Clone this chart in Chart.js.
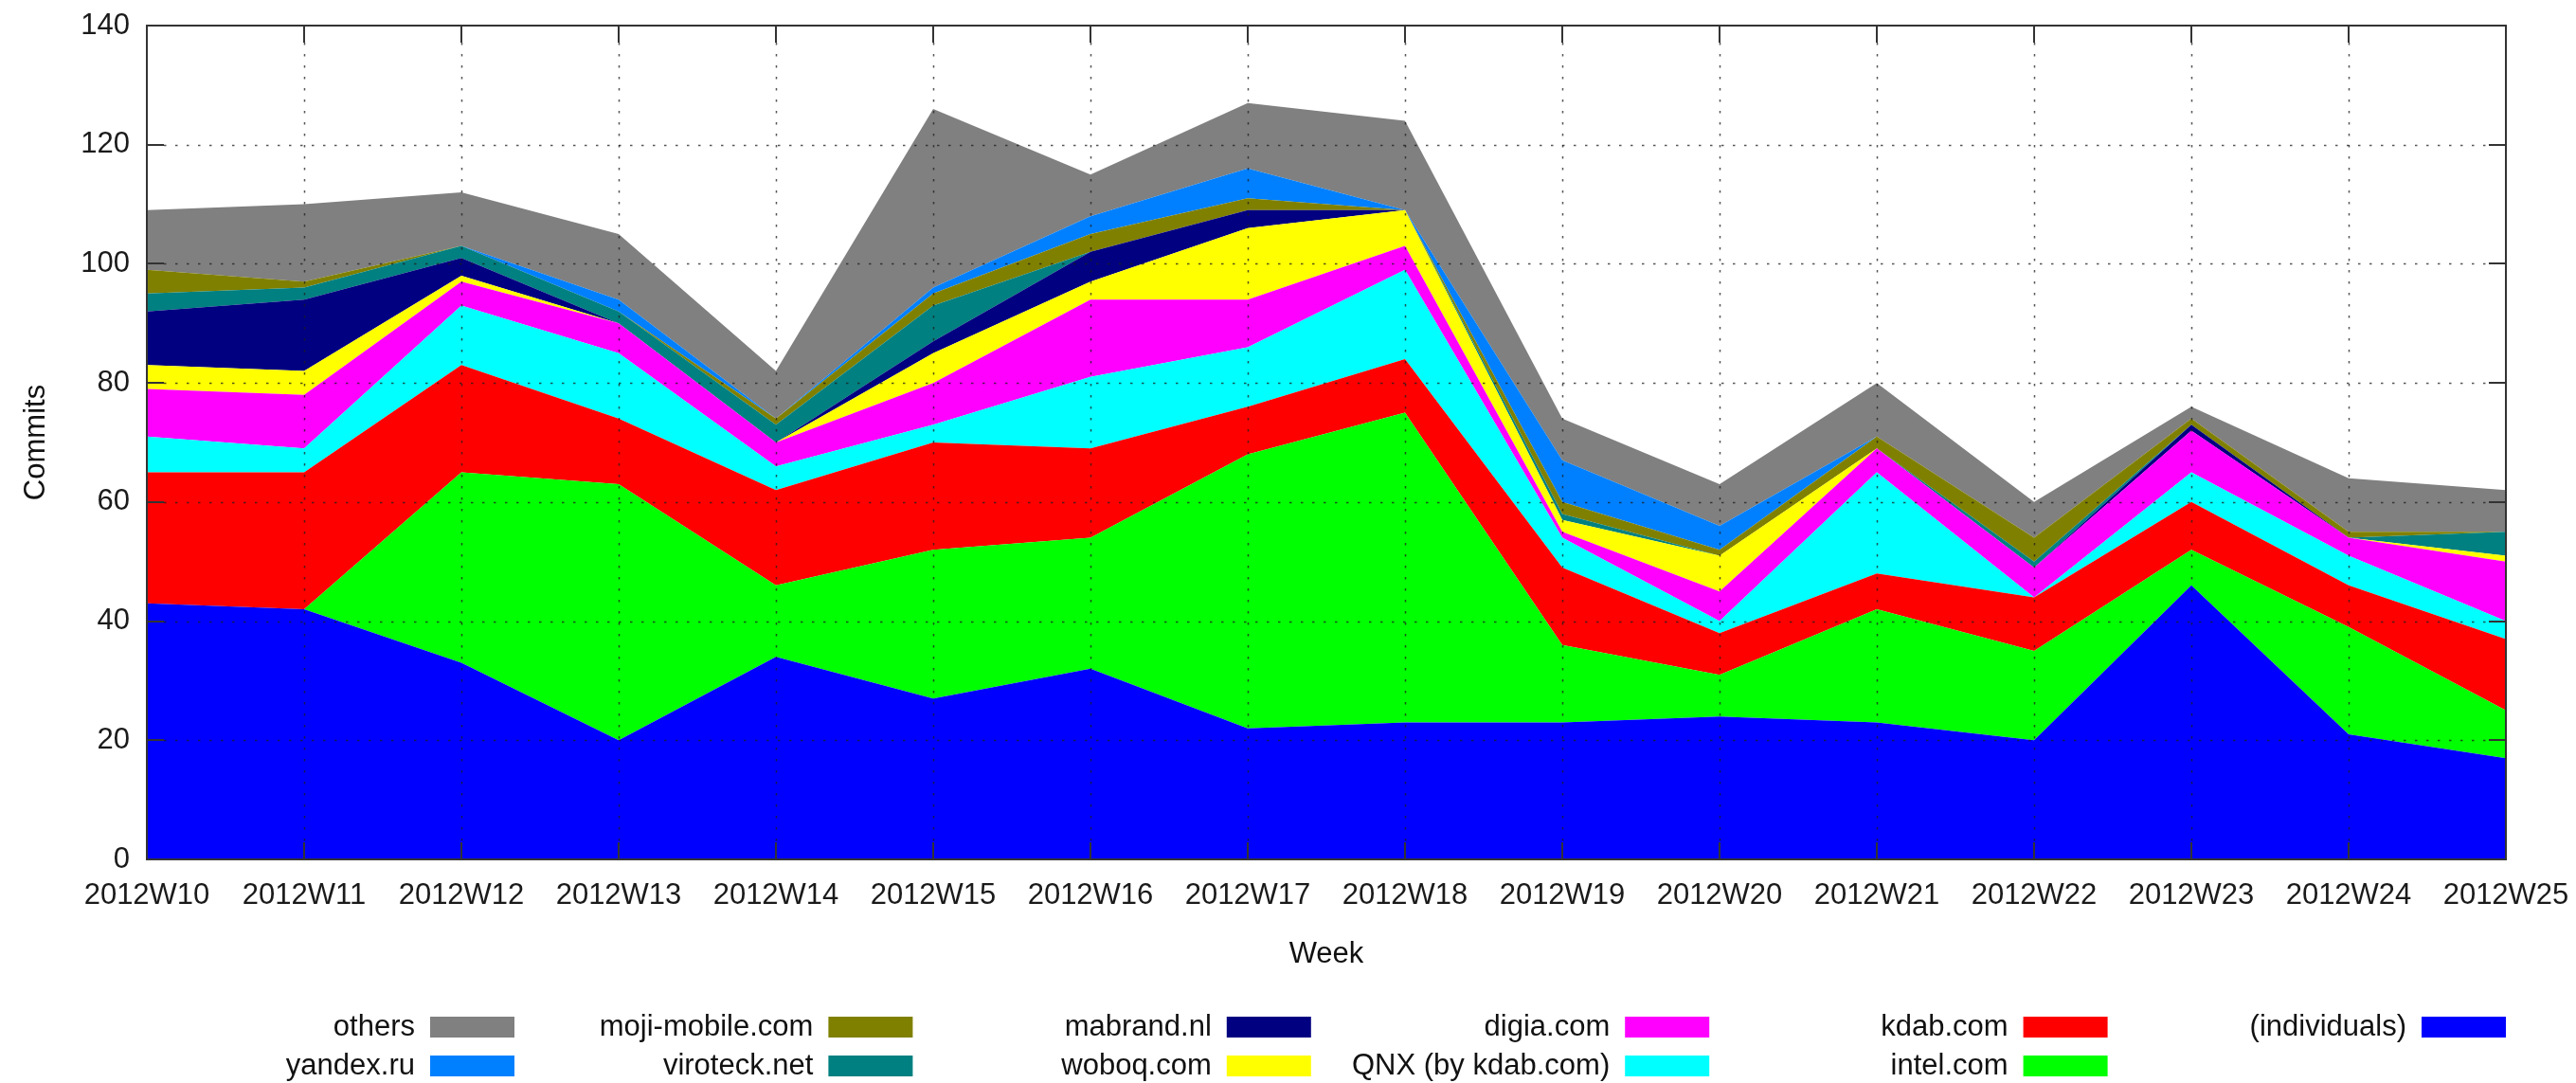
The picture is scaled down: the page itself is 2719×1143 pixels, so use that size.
<!DOCTYPE html>
<html>
<head>
<meta charset="utf-8">
<title>Commits per week</title>
<script src="https://cdn.jsdelivr.net/npm/chart.js@4.4.0/dist/chart.umd.min.js"></script>
<style>
  body { margin: 0; background: #fff; }
  #wrap { width: 2719px; height: 1143px; position: relative; }
</style>
</head>
<body>
<div id="wrap"><canvas id="commitsChart"></canvas></div>
<script>
// weeks on the x axis
const weeks = ["2012W10", "2012W11", "2012W12", "2012W13", "2012W14", "2012W15", "2012W16", "2012W17",
               "2012W18", "2012W19", "2012W20", "2012W21", "2012W22", "2012W23", "2012W24", "2012W25"];

// commits per company, stacked bottom to top
const individuals = [43, 42, 33, 20, 34, 27, 32, 22, 23, 23, 24, 23, 20, 46, 21, 17];
const intel       = [0, 0, 32, 43, 12, 25, 22, 46, 52, 13, 7, 19, 15, 6, 18, 8];
const kdab        = [22, 23, 18, 11, 16, 18, 15, 8, 9, 13, 7, 6, 9, 8, 7, 12];
const qnx         = [6, 4, 10, 11, 4, 3, 12, 10, 15, 5, 2, 17, 0, 5, 5, 3];
const digia       = [8, 9, 4, 5, 4, 7, 13, 8, 4, 1, 5, 4, 5, 7, 3, 10];
const woboq       = [4, 4, 1, 0, 0, 5, 3, 12, 6, 2, 6, 0, 0, 0, 0, 1];
const mabrand     = [9, 12, 3, 0, 0, 2, 5, 3, 0, 0, 0, 0, 0, 1, 0, 0];
const viroteck    = [3, 2, 2, 2, 3, 6, 0, 0, 0, 1, 0, 0, 1, 0, 0, 4];
const moji        = [4, 1, 0, 0, 1, 2, 3, 2, 0, 2, 1, 2, 4, 1, 1, 0];
const yandex      = [0, 0, 0, 2, 0, 1, 3, 5, 0, 7, 4, 0, 0, 0, 0, 0];
const others      = [10, 13, 9, 11, 8, 30, 7, 11, 15, 7, 7, 9, 6, 2, 9, 7];

const yTicks = [0, 20, 40, 60, 80, 100, 120, 140];

const FONT = '"Liberation Sans", Arial, Helvetica, sans-serif';

function makeSeries(label, data, color, fill) {
    return {
        label: label,
        data: data,
        backgroundColor: color,
        borderColor: color,
        borderWidth: 0,
        pointRadius: 0,
        tension: 0,
        fill: fill
    };
}

// keep the plot box where gnuplot put it, labels may overflow
function noLabelPadding(scale) {
    scale.paddingTop = 0;
    scale.paddingBottom = 0;
    scale.paddingLeft = 0;
    scale.paddingRight = 0;
}

// draws gnuplot style frame, dotted grid (over the areas), titles and legend
const gnuplotLook = {
    id: 'gnuplotLook',
    afterDraw(chart) {
        const ctx = chart.ctx;
        const area = chart.chartArea;
        const xScale = chart.scales.x;
        const yScale = chart.scales.y;
        const tickLen = 18;

        ctx.save();

        // dotted grid
        ctx.strokeStyle = 'rgba(30,30,30,0.75)';
        ctx.lineWidth = 1.5;
        ctx.setLineDash([2.5, 9.5]);
        yTicks.forEach(v => {
            if (v <= 0 || v >= 140) return;
            const y = Math.round(yScale.getPixelForValue(v)) + 0.5;
            ctx.beginPath();
            ctx.moveTo(area.left + tickLen, y);
            ctx.lineTo(area.right - tickLen, y);
            ctx.stroke();
        });
        weeks.forEach((w, i) => {
            if (i === 0 || i === weeks.length - 1) return;
            const x = Math.round(xScale.getPixelForValue(i)) + 0.5;
            ctx.beginPath();
            ctx.moveTo(x, area.top + tickLen);
            ctx.lineTo(x, area.bottom - tickLen);
            ctx.stroke();
        });

        // tick marks on all four sides
        ctx.setLineDash([]);
        ctx.strokeStyle = '#333';
        ctx.lineWidth = 2;
        yTicks.forEach(v => {
            const y = Math.round(yScale.getPixelForValue(v));
            ctx.beginPath();
            ctx.moveTo(area.left, y);
            ctx.lineTo(area.left + tickLen, y);
            ctx.moveTo(area.right, y);
            ctx.lineTo(area.right - tickLen, y);
            ctx.stroke();
        });
        weeks.forEach((w, i) => {
            const x = Math.round(xScale.getPixelForValue(i));
            ctx.beginPath();
            ctx.moveTo(x, area.bottom);
            ctx.lineTo(x, area.bottom - tickLen);
            ctx.moveTo(x, area.top);
            ctx.lineTo(x, area.top + tickLen);
            ctx.stroke();
        });

        // frame
        ctx.strokeRect(area.left, area.top, area.right - area.left, area.bottom - area.top);

        // axis titles
        ctx.fillStyle = '#111';
        ctx.font = '31px ' + FONT;
        ctx.textAlign = 'center';
        ctx.textBaseline = 'middle';
        ctx.fillText('Week', (area.left + area.right) / 2, 1007);
        ctx.save();
        ctx.translate(38, (area.top + area.bottom) / 2);
        ctx.rotate(-Math.PI / 2);
        ctx.fillText('Commits', 0, 0);
        ctx.restore();

        // legend: column-major, two rows, top of stack first
        const items = chart.data.datasets.slice().reverse();
        ctx.textAlign = 'right';
        items.forEach((ds, i) => {
            const col = Math.floor(i / 2);
            const row = i % 2;
            const sx = 454 + col * 420.4;
            const cy = 1084 + row * 41;
            ctx.fillStyle = ds.backgroundColor;
            ctx.fillRect(sx, cy - 11, 89, 22);
            ctx.fillStyle = '#111';
            ctx.fillText(ds.label, sx - 16, cy);
        });

        ctx.restore();
    }
};

const ctx = document.getElementById('commitsChart').getContext('2d');

new Chart(ctx, {
    type: 'line',
    data: {
        labels: weeks,
        datasets: [
            makeSeries('(individuals)', individuals, '#0000ff', 'origin'),
            makeSeries('intel.com', intel, '#00ff00', '-1'),
            makeSeries('kdab.com', kdab, '#ff0000', '-1'),
            makeSeries('QNX (by kdab.com)', qnx, '#00ffff', '-1'),
            makeSeries('digia.com', digia, '#ff00ff', '-1'),
            makeSeries('woboq.com', woboq, '#ffff00', '-1'),
            makeSeries('mabrand.nl', mabrand, '#000080', '-1'),
            makeSeries('viroteck.net', viroteck, '#008080', '-1'),
            makeSeries('moji-mobile.com', moji, '#808000', '-1'),
            makeSeries('yandex.ru', yandex, '#0080ff', '-1'),
            makeSeries('others', others, '#808080', '-1')
        ]
    },
    options: {
        responsive: true,
        maintainAspectRatio: false,
        animation: false,
        layout: {
            padding: { left: 0, right: 74, top: 27, bottom: 0 }
        },
        plugins: {
            legend: { display: false },
            tooltip: { enabled: false },
            filler: { propagate: false }
        },
        scales: {
            x: {
                type: 'category',
                offset: false,
                grid: { display: false, drawTicks: false },
                border: { display: false },
                ticks: {
                    color: '#1a1a1a',
                    font: { size: 31, family: FONT },
                    padding: 20,
                    maxRotation: 0,
                    autoSkip: false
                },
                afterFit: scale => {
                    scale.height = 236;
                    noLabelPadding(scale);
                }
            },
            y: {
                stacked: true,
                min: 0,
                max: 140,
                grid: { display: false, drawTicks: false },
                border: { display: false },
                ticks: {
                    stepSize: 20,
                    color: '#1a1a1a',
                    font: { size: 31, family: FONT },
                    padding: 18
                },
                afterFit: scale => {
                    scale.width = 155;
                    noLabelPadding(scale);
                }
            }
        }
    },
    plugins: [gnuplotLook]
});
</script>
</body>
</html>
